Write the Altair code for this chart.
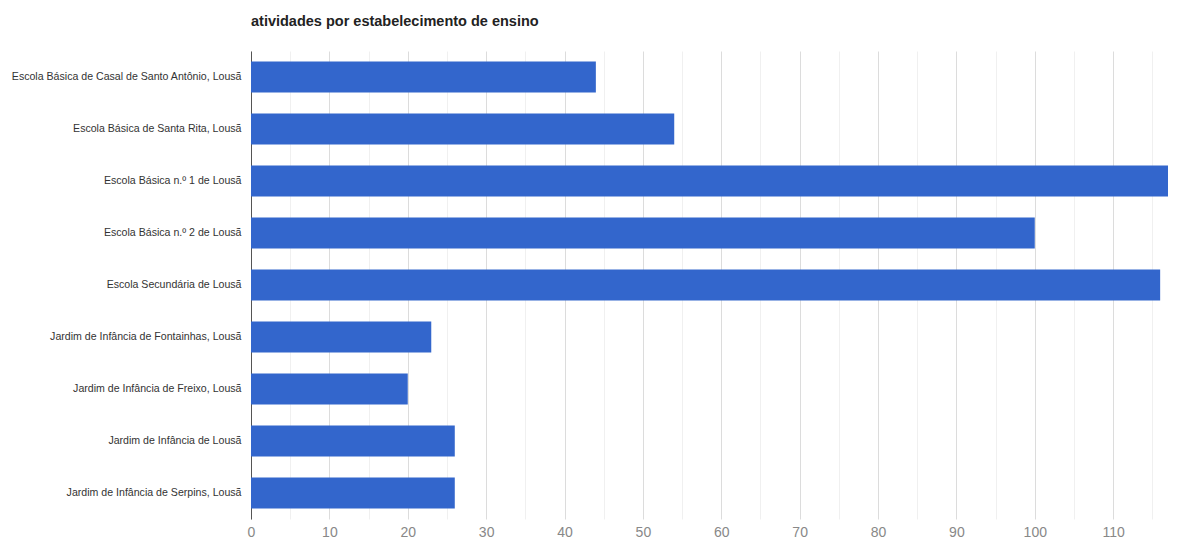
import altair as alt
import pandas as pd

escolas = [
    "Escola Básica de Casal de Santo Antônio, Lousã",
    "Escola Básica de Santa Rita, Lousã",
    "Escola Básica n.º 1 de Lousã",
    "Escola Básica n.º 2 de Lousã",
    "Escola Secundária de Lousã",
    "Jardim de Infância de Fontainhas, Lousã",
    "Jardim de Infância de Freixo, Lousã",
    "Jardim de Infância de Lousã",
    "Jardim de Infância de Serpins, Lousã",
]
atividades = [44, 54, 117, 100, 116, 23, 20, 26, 26]
grid_values = list(range(0, 120, 5))

df = pd.DataFrame({"escola": escolas, "atividades": atividades})

chart = (
    alt.Chart(df)
    .mark_bar(color="#3366cc")
    .encode(
        x=alt.X(
            "atividades:Q",
            scale=alt.Scale(domain=[0, 117], nice=False),
            axis=alt.Axis(
                title=None,
                values=grid_values,
                labelExpr="datum.value % 10 === 0 ? datum.label : ''",
                domain=False,
                ticks=False,
                labelFlush=False,
                labelFontSize=14,
                labelColor="#888888",
                labelPadding=6,
                gridColor={"condition": {"test": "datum.value % 10 === 0", "value": "#dcdcdc"}, "value": "#f0f0f0"},
                gridWidth=1,
            ),
        ),
        y=alt.Y(
            "escola:N",
            sort=None,
            scale=alt.Scale(paddingInner=0.4, paddingOuter=0.2),
            axis=alt.Axis(
                title=None,
                ticks=False,
                domain=True,
                domainColor="#555555",
                labelFontSize=10.6,
                labelColor="#333333",
                labelPadding=10,
                labelLimit=260,
            ),
        ),
    )
    .properties(
        width=917,
        height=468,
        title=alt.Title(
            "atividades por estabelecimento de ensino",
            anchor="start",
            frame="group",
            fontSize=14.5,
            fontWeight="bold",
            color="#222222",
            offset=22,
        ),
        autosize=alt.AutoSizeParams(type="none"),
        padding={"left": 243, "top": 43, "right": 2, "bottom": 30},
    )
    .configure(font="Liberation Sans")
    .configure_view(stroke=None)
)

chart.save("out.html", embed_options={"renderer": "svg", "actions": False})
